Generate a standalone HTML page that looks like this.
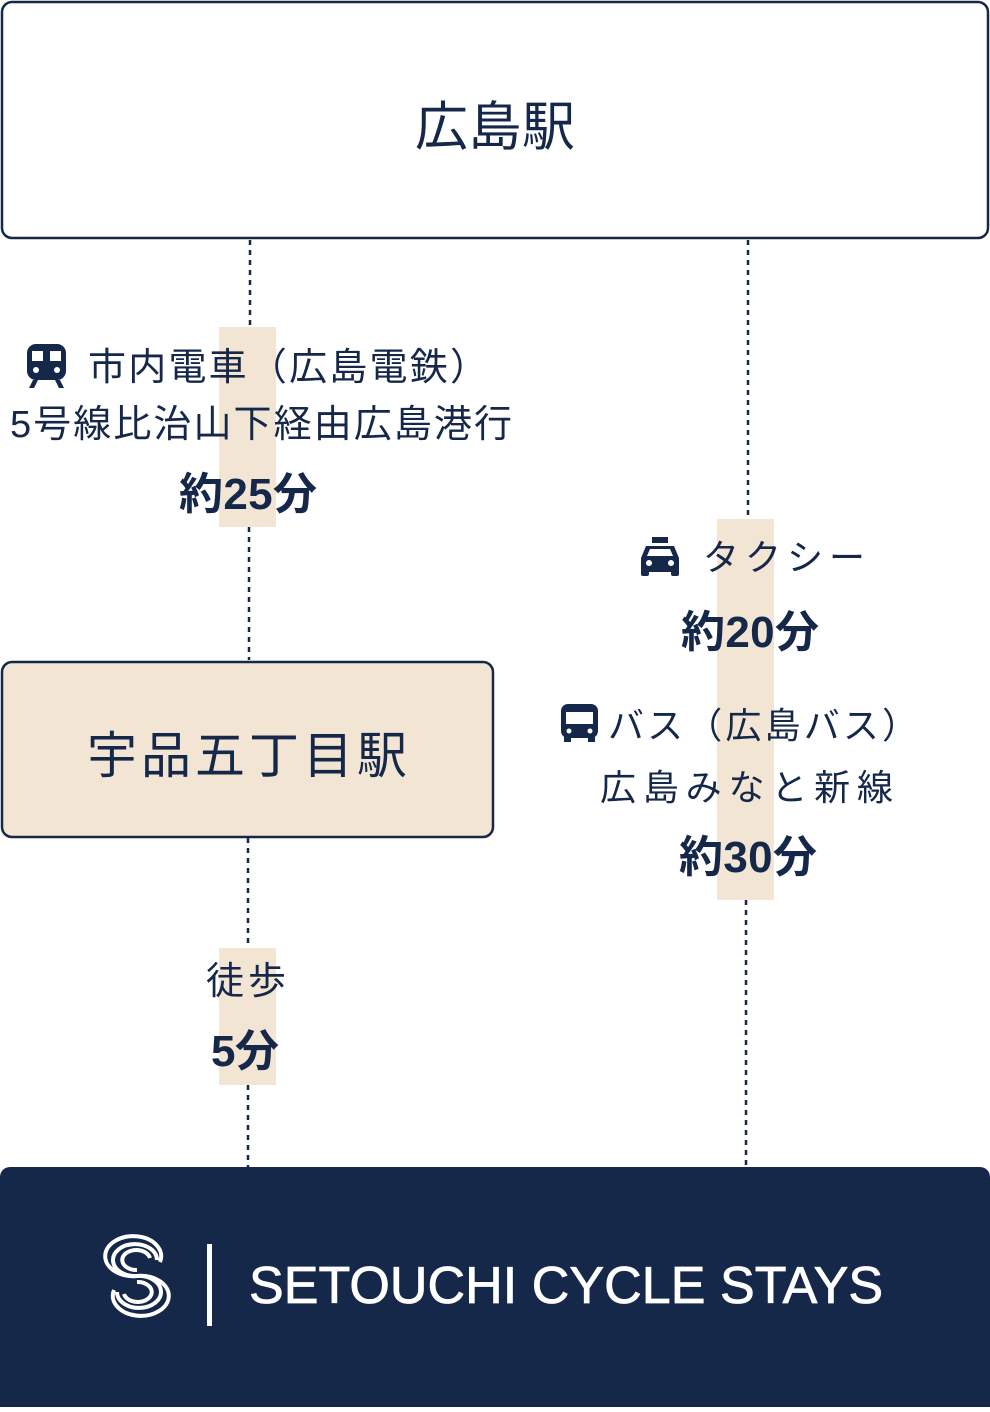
<!DOCTYPE html>
<html><head><meta charset="utf-8"><style>
html,body{margin:0;padding:0;background:#fff;}
svg text{font-family:"Liberation Sans","Noto Sans CJK JP",sans-serif;fill:#16284a;}
</style></head><body>
<svg width="990" height="1407" viewBox="0 0 990 1407" xmlns="http://www.w3.org/2000/svg">
<rect x="219" y="327" width="57" height="200" fill="#f3e5d3"/>
<rect x="717" y="519" width="57" height="381" fill="#f3e5d3"/>
<rect x="219" y="948" width="57" height="137" fill="#f3e5d3"/>
<g stroke="#16284a" stroke-width="2.5" stroke-dasharray="5,5">
<line x1="250" y1="240" x2="250" y2="327"/>
<line x1="249" y1="527" x2="249" y2="660"/>
<line x1="748" y1="240" x2="748" y2="519"/>
<line x1="746" y1="900" x2="746" y2="1167"/>
<line x1="248" y1="838" x2="248" y2="948"/>
<line x1="248" y1="1085" x2="248" y2="1167"/>
</g>
<rect x="2" y="2" width="986" height="236" rx="10" fill="#fff" stroke="#16284a" stroke-width="2.5"/>
<text x="495" y="145" font-size="53" text-anchor="middle" textLength="160">広島駅</text>
<rect x="2" y="662" width="491" height="175" rx="10" fill="#f3e5d3" stroke="#16284a" stroke-width="2.5"/>
<text x="247" y="773" font-size="50" text-anchor="middle" textLength="320">宇品五丁目駅</text>
<g fill="#16284a">
<rect x="27" y="344" width="39" height="36" rx="9"/>
<path d="M33 380 l-4 8 h5 l4 -8z M60 380 l4 8 h-5 l-4 -8z"/>
</g>
<g fill="#fff"><rect x="32" y="351" width="11" height="10"/><rect x="50" y="351" width="11" height="10"/><circle cx="36" cy="370" r="3"/><circle cx="57" cy="370" r="3"/></g>
<text x="88" y="380" font-size="38" textLength="400">市内電車（広島電鉄）</text>
<text x="10" y="437" font-size="38" textLength="502">5号線比治山下経由広島港行</text>
<text x="248" y="509" font-size="44" font-weight="bold" text-anchor="middle" textLength="138">約25分</text>
<g fill="#16284a">
<path d="M652 537 h16 v6 h-16z"/>
<path d="M646 546 h28 l5 12 v14 h-38 v-14z"/>
<rect x="641" y="570" width="8" height="6" rx="2"/><rect x="671" y="570" width="8" height="6" rx="2"/>
</g>
<g fill="#fff"><path d="M650 549 h20 l3 7 h-26z"/><circle cx="649" cy="563" r="3"/><circle cx="671" cy="563" r="3"/></g>
<text x="703" y="570" font-size="36" textLength="162">タクシー</text>
<text x="750" y="647" font-size="44" font-weight="bold" text-anchor="middle" textLength="138">約20分</text>
<g fill="#16284a"><rect x="561" y="704" width="37" height="34" rx="7"/><rect x="564" y="736" width="7" height="6"/><rect x="588" y="736" width="7" height="6"/></g>
<g fill="#fff"><rect x="566" y="712" width="27" height="12"/><circle cx="569" cy="731" r="2.5"/><circle cx="590" cy="731" r="2.5"/></g>
<text x="608" y="738" font-size="36" textLength="310">バス（広島バス）</text>
<text x="600" y="800" font-size="36" textLength="293">広島みなと新線</text>
<text x="748" y="872" font-size="44" font-weight="bold" text-anchor="middle" textLength="138">約30分</text>
<text x="246" y="994" font-size="38" text-anchor="middle" textLength="80">徒歩</text>
<text x="245" y="1066" font-size="44" font-weight="bold" text-anchor="middle" textLength="68">5分</text>
<path d="M0 1177 a10 10 0 0 1 10 -10 h970 a10 10 0 0 1 10 10 v230 h-990z" fill="#16284a"/>
<g fill="none" stroke="#fff" stroke-width="4">
<path d="M157 1260 a22 16 0 1 0 -20 16 a22 16 0 1 1 -20 16"/>
<path d="M150 1258 a14 10 0 1 0 -13 12"/>
<path d="M124 1294 a14 10 0 1 0 13 -12"/>
<path d="M160 1262 a28 20 0 1 0 -23 14 a28 20 0 1 1 -23 14"/>
</g>
<rect x="207" y="1244" width="5" height="82" fill="#fff"/>
<text x="249" y="1303" font-size="52" style="fill:#fff;stroke:#fff;stroke-width:0.8" textLength="634">SETOUCHI CYCLE STAYS</text>
</svg>
</body></html>
